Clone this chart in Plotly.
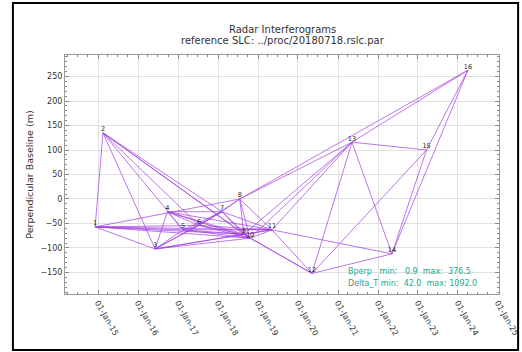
import plotly.graph_objects as go

# SLC nodes
node_ids = [str(i) for i in range(1, 17)]
node_dates = ["2014-12-05", "2015-02-15", "2016-06-05", "2016-09-25", "2017-02-15",
              "2017-07-12", "2018-02-06", "2018-07-18", "2018-08-25", "2018-10-20",
              "2019-05-08", "2020-05-08", "2021-05-08", "2022-05-08", "2023-03-20",
              "2024-04-01"]
node_bperp = [-57, 135, -102, -26, -63, -54, -26, 0, -72, -80, -63, -152, 116, -112, 100, 263]

# interferogram pairs (1-based node numbers)
pairs = [(1, 2), (1, 3), (1, 5), (1, 6), (1, 8), (1, 9), (1, 10), (1, 11),
         (2, 3), (2, 5), (2, 6), (2, 9), (2, 10), (2, 7),
         (3, 4), (3, 5), (3, 6), (3, 7), (3, 9), (3, 10), (3, 11),
         (4, 5), (4, 7), (4, 9), (4, 10), (4, 11), (4, 6),
         (5, 6), (5, 7), (5, 9), (5, 10), (5, 11),
         (6, 7), (6, 9), (6, 10), (6, 11), (6, 8),
         (7, 8), (7, 9), (7, 10), (7, 11),
         (8, 9), (8, 10), (8, 11), (8, 13), (8, 16),
         (9, 10), (9, 11), (9, 12), (9, 13),
         (10, 11), (10, 12), (10, 13),
         (11, 12), (11, 13), (11, 14),
         (12, 13), (12, 14), (12, 15),
         (13, 14), (13, 15), (13, 16),
         (14, 15), (14, 16), (15, 16)]

x_ticks = ["2015-01-01", "2016-01-01", "2017-01-01", "2018-01-01", "2019-01-01",
           "2020-01-01", "2021-01-01", "2022-01-01", "2023-01-01", "2024-01-01",
           "2025-01-01"]
x_ticklabels = ["01-Jan-15", "01-Jan-16", "01-Jan-17", "01-Jan-18", "01-Jan-19",
                "01-Jan-20", "01-Jan-21", "01-Jan-22", "01-Jan-23", "01-Jan-24",
                "01-Jan-25"]
y_ticks = [-150, -100, -50, 0, 50, 100, 150, 200, 250]

title_lines = ["Radar Interferograms", "reference SLC: ../proc/20180718.rslc.par"]
stats_lines = ["Bperp   min:   0.9  max:  376.5", "Delta_T min:  42.0  max: 1092.0"]

ex, ey = [], []
for a, b in pairs:
    ex += [node_dates[a - 1], node_dates[b - 1], None]
    ey += [node_bperp[a - 1], node_bperp[b - 1], None]

fig = go.Figure()
fig.add_trace(go.Scatter(x=ex, y=ey, mode="lines",
                         line=dict(color="rgba(160,60,225,0.7)", width=1),
                         hoverinfo="skip", showlegend=False))
fig.add_trace(go.Scatter(x=node_dates, y=node_bperp, mode="text", text=node_ids,
                         textposition="top center",
                         textfont=dict(family="DejaVu Sans", size=6.5, color="#222"),
                         showlegend=False))

# title lines (paper coords: plot area spans px 55..294 vertically)
for txt, yp in zip(title_lines, [1.105, 1.059]):
    fig.add_annotation(xref="paper", yref="paper", x=0.502, y=yp, xanchor="center",
                       yanchor="middle", text=txt, showarrow=False,
                       font=dict(family="DejaVu Sans", size=10, color="#333"))

for txt, yp in zip(stats_lines, [0.096, 0.046]):
    fig.add_annotation(xref="paper", yref="paper", x=0.648, y=yp, xanchor="left",
                       yanchor="middle", text=txt.replace(" ", "\u00a0"), showarrow=False,
                       align="left", font=dict(family="DejaVu Sans", size=8, color="#1aaa8a"))

fig.add_shape(type="rect", xref="paper", yref="paper", x0=-0.12, x1=1.044, y0=-0.234, y1=1.218,
              line=dict(color="black", width=2), fillcolor="rgba(0,0,0,0)", layer="above")

axis_common = dict(showline=True, linecolor="#999", linewidth=1, mirror="allticks",
                   ticks="inside", ticklen=4, tickcolor="#888", automargin=False,
                   showgrid=True, gridcolor="#e0e0e0", gridwidth=1, zeroline=False,
                   tickfont=dict(family="DejaVu Sans", size=8, color="#333"))

fig.update_layout(
    width=522, height=352,
    margin=dict(l=65, r=23, t=55, b=58),
    paper_bgcolor="white", plot_bgcolor="white",
    xaxis=dict(range=["2014-03-05", "2025-01-10"], tickvals=x_ticks, ticktext=x_ticklabels,
               tickangle=60, minor=dict(ticks="inside", ticklen=2, dtick="M3", tickcolor="#888"),
               **axis_common),
    yaxis=dict(range=[-194, 294], tickvals=y_ticks,
               minor=dict(ticks="inside", ticklen=2, dtick=10, tickcolor="#888"),
               title=dict(text="Perpendicular Baseline (m)", standoff=5,
                          font=dict(family="DejaVu Sans", size=9.5, color="#333")),
               **axis_common),
)

fig.write_html("out.html", config={"displayModeBar": False},
               post_script="document.body.style.margin='0';")
